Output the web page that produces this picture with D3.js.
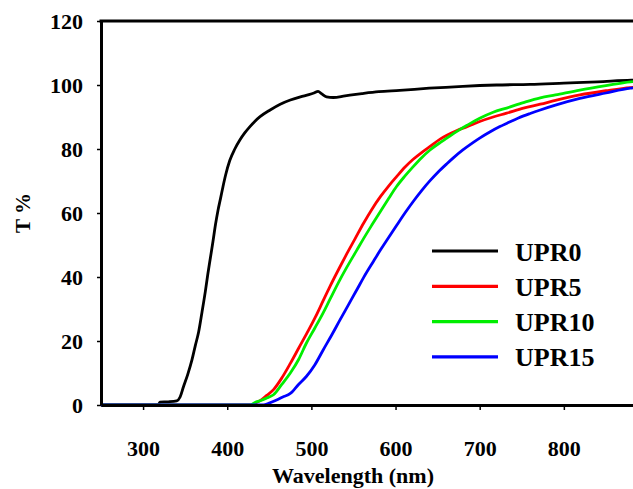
<!DOCTYPE html>
<html>
<head>
<meta charset="utf-8">
<script src="https://cdn.jsdelivr.net/npm/d3@7"></script>
<style>
  html, body { margin: 0; padding: 0; background: #fff; }
  svg { display: block; }
  text { font-family: "Liberation Serif", "Times New Roman", serif; font-weight: bold; fill: #000; }
</style>
</head>
<body>
<script>
// ---- Data ----
const seriesNames = ["UPR0", "UPR5", "UPR10", "UPR15"];
const seriesColors = ["#000000", "#ff0000", "#00ee00", "#0000ff"];

const wlUPR0 = [250, 318, 320, 330, 340, 344, 348, 353, 358, 362, 366, 370, 374, 377, 380, 383, 386, 389, 392, 395, 398, 403, 409, 415, 421, 427, 433, 439, 451, 463, 475, 487, 497, 503, 508, 512, 518, 526, 540, 560, 580, 605, 640, 680, 720, 760, 800, 840, 880, 900];
const tUPR0  = [0,   0,   0.9, 1.0, 1.3, 2.5, 5.7, 9.5, 14,  18.5, 22.8, 29, 35.5, 41, 46,  51,  56.3, 60.8, 64.5, 68.3, 71.8, 76.4, 80, 82.8, 85.1, 87, 88.7, 90.1, 92.2, 94, 95.3, 96.3, 97, 97.5, 98, 97.3, 96.3, 96.1, 96.6, 97.3, 97.9, 98.3, 99, 99.6, 100, 100.2, 100.6, 101, 101.5, 101.6];

const wlUPR5 = [250, 429, 435, 440, 447, 455, 465, 475, 485, 495, 505, 514, 522, 534, 542, 552, 562, 572, 582, 592, 601, 611, 621, 631, 641, 653, 661, 673, 685, 700, 716, 732, 752, 772, 790, 819, 850, 879, 900];
const tUPR5  = [0,   0,   0.8, 1.5, 3,   4.8, 8.5, 13,  17.8, 22.6, 27.6, 32.6, 37, 43.2, 47.2, 52, 56.8, 61.2, 65.1, 68.5, 71.3, 74.3, 76.8, 78.9, 80.8, 83.1, 84.3, 85.8, 87, 88.6, 90, 91.2, 92.8, 94, 95.2, 96.9, 98.2, 99.2, 99.5];

const wlUPR10 = [250, 427, 433, 440, 447, 455, 465, 475, 485, 494, 504, 514, 522, 534, 542, 554, 562, 572, 582, 592, 601, 611, 621, 631, 641, 653, 661, 673, 685, 700, 716, 732, 752, 772, 790, 819, 850, 879, 900];
const tUPR10  = [0,   0,   0.8, 1.4, 2.2, 3.2, 6.5, 10,  14.3, 19.3, 24, 28.8, 33, 39.2, 43, 48.4, 52, 56.3, 60.5, 64.6, 68.2, 71.5, 74.5, 77.3, 79.7, 82, 83.4, 85.5, 87.4, 89.6, 91.5, 92.8, 94.5, 96, 96.9, 98.4, 99.8, 101, 101.3];

const wlUPR15 = [250, 443, 450, 458, 466, 475, 485, 494, 504, 514, 524, 534, 544, 554, 562, 574, 582, 592, 602, 612, 621, 631, 641, 651, 661, 669, 680, 692, 700, 712, 724, 732, 746, 760, 772, 790, 819, 850, 879, 900];
const tUPR15  = [0,   0,   0.6, 1.5, 2.5, 3.6, 6.5, 8.9, 12.5, 17.2, 21.8, 26.6, 31.3, 36, 39.8, 45, 48.4, 52.4, 56.4, 60.3, 63.6, 67, 70.1, 72.9, 75.4, 77.3, 79.7, 82, 83.4, 85.3, 87, 88, 89.7, 91.1, 92.2, 93.7, 95.8, 97.5, 99, 99.5];

const xTicks = [300, 400, 500, 600, 700, 800];
const yTicks = [0, 20, 40, 60, 80, 100, 120];
const xTitle = "Wavelength (nm)";
const yTitle = "T %";

// ---- Chart ----
const W = 633, H = 489;
const svg = d3.select("body").append("svg").attr("width", W).attr("height", H);

const x = d3.scaleLinear().domain([250, 900]).range([101, 648]);
const y = d3.scaleLinear().domain([0, 120]).range([405, 21]);

const series = [
  { name: seriesNames[0], color: seriesColors[0], wl: wlUPR0, t: tUPR0 },
  { name: seriesNames[1], color: seriesColors[1], wl: wlUPR5, t: tUPR5 },
  { name: seriesNames[2], color: seriesColors[2], wl: wlUPR10, t: tUPR10 },
  { name: seriesNames[3], color: seriesColors[3], wl: wlUPR15, t: tUPR15 }
];

const line = d3.line()
  .x(d => x(d[0]))
  .y(d => y(d[1]))
  .curve(d3.curveMonotoneX);

const plot = svg.append("g");
series.forEach(s => {
  const pts = s.wl.map((w, i) => [w, s.t[i]]);
  plot.append("path")
    .attr("d", line(pts))
    .attr("fill", "none")
    .attr("stroke", s.color)
    .attr("stroke-width", 2.8)
    .attr("stroke-linejoin", "round");
});

// Axes
const xAxis = svg.append("g")
  .attr("transform", `translate(0,${y(0)})`)
  .call(d3.axisBottom(x).tickValues(xTicks).tickSize(5).tickSizeOuter(0).tickPadding(30).tickFormat(d3.format("d")));
const yAxis = svg.append("g")
  .attr("transform", `translate(${x(250)},0)`)
  .call(d3.axisLeft(y).tickValues(yTicks).tickSize(4).tickSizeOuter(0).tickPadding(14).tickFormat(d3.format("d")));

[xAxis, yAxis].forEach(a => {
  a.select(".domain").attr("stroke", "#000").attr("stroke-width", 3);
  a.selectAll(".tick line").attr("stroke", "#000").attr("stroke-width", 1.5);
  a.selectAll(".tick text")
    .style("font-family", "'Liberation Serif', 'Times New Roman', serif")
    .style("font-weight", "bold")
    .style("font-size", "22px")
    .attr("fill", "#000");
});

// Top frame line
svg.append("line")
  .attr("x1", x(250) - 1.5).attr("x2", x(900))
  .attr("y1", y(120)).attr("y2", y(120))
  .attr("stroke", "#000").attr("stroke-width", 3);

// Axis titles
svg.append("text")
  .attr("x", 353).attr("y", 483)
  .attr("text-anchor", "middle")
  .style("font-size", "22px")
  .text(xTitle);

svg.append("text")
  .attr("transform", `translate(30,${(y(0) + y(120)) / 2}) rotate(-90)`)
  .attr("text-anchor", "middle")
  .style("font-size", "21px")
  .text(yTitle);

// Legend
const legend = svg.append("g");
series.forEach((s, i) => {
  const ly = 251 + i * 35.3;
  legend.append("line")
    .attr("x1", 432).attr("x2", 498)
    .attr("y1", ly).attr("y2", ly)
    .attr("stroke", s.color).attr("stroke-width", 3.2);
  legend.append("text")
    .attr("x", 515).attr("y", ly + 9.5)
    .style("font-size", "26px")
    .text(s.name);
});
</script>
</body>
</html>
